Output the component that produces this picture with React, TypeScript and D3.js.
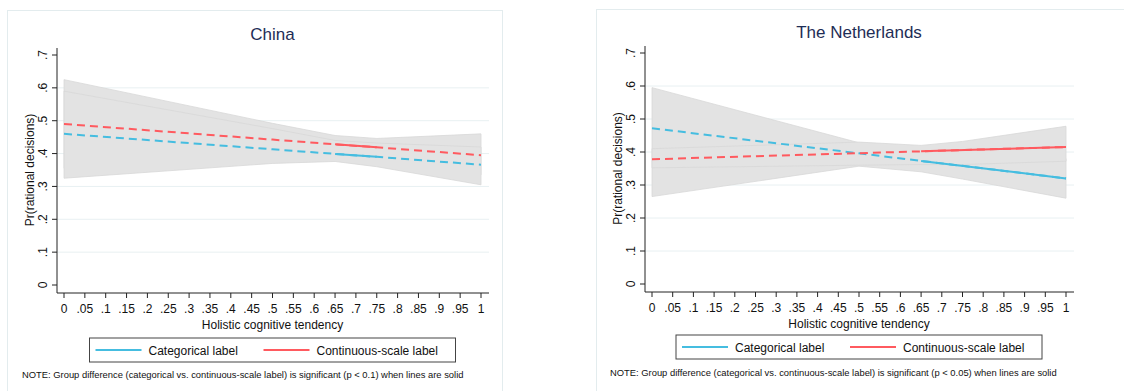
import React from "react";
import * as d3 from "d3";

// evaluation points of the margins (holistic cognitive tendency)
const xPoints = [0, 0.5, 0.65, 0.75, 1];

// China
const chinaCat = [0.46, 0.413, 0.399, 0.39, 0.366];
const chinaCatLo = [0.325, 0.37, 0.376, 0.36, 0.305];
const chinaCatHi = [0.59, 0.476, 0.44, 0.432, 0.42];
const chinaCon = [0.49, 0.4425, 0.428, 0.419, 0.395];
const chinaConLo = [0.355, 0.39, 0.395, 0.385, 0.335];
const chinaConHi = [0.625, 0.492, 0.455, 0.446, 0.46];
const chinaSig = [0.65, 0.75];

// The Netherlands
const nlCat = [0.472, 0.396, 0.373, 0.358, 0.32];
const nlCatLo = [0.265, 0.357, 0.34, 0.318, 0.26];
const nlCatHi = [0.595, 0.428, 0.41, 0.4, 0.38];
const nlCon = [0.378, 0.3965, 0.402, 0.406, 0.415];
const nlConLo = [0.352, 0.36, 0.362, 0.362, 0.372];
const nlConHi = [0.41, 0.43, 0.42, 0.432, 0.478];
const nlSig = [0.65, 1];

const xTicks = d3.range(0, 21).map(i => i / 20);
const yTicks = [0, 0.1, 0.2, 0.3, 0.4, 0.5, 0.6, 0.7];
const gridTicks = [0.1, 0.2, 0.3, 0.4, 0.5, 0.6];

const BLUE = "#45bde0";
const RED = "#ff5a5f";
const FONT = "'Liberation Sans', Arial, sans-serif";

const fmt = (v: number) => {
  const s = d3.format(".2~f")(v);
  return s.startsWith("0.") ? s.slice(1) : s;
};

function Panel(props: any) {
  const { px, py, pw, ph, left, right, bottom, top, title, note, legend, series, bandOrder, sig } = props;

  const x = d3.scaleLinear().domain([0, 1]).range([left, right]);
  const y = d3.scaleLinear().domain([0, 0.7]).range([bottom, top]);

  const line = d3
    .line<number>()
    .x((d, i) => x(xPoints[i]))
    .y(d => y(d));

  const band = (lo: number[], hi: number[]) =>
    d3
      .area<number>()
      .x(d => x(d))
      .y0((d, i) => y(lo[i]))
      .y1((d, i) => y(hi[i]))(xPoints) as string;

  // value of a series at an arbitrary x (straight line between points)
  const at = (vals: number[], xv: number) => d3.scaleLinear().domain(xPoints).range(vals)(xv);

  const axisY = bottom + 8;
  const axisL = left - 7;
  const axisR = right + 8;
  const cx = (left + right) / 2;

  return (
    <g>
      <rect x={px} y={py} width={pw} height={ph} fill="#fff" stroke="#e3ecee" strokeWidth={1} />
      <text x={cx} y={top - 15} textAnchor="middle" fontSize={17} fill="#1e2d56" fontFamily={FONT}>
        {title}
      </text>

      {gridTicks.map(t => (
        <line key={t} x1={axisL} x2={axisR} y1={y(t)} y2={y(t)} stroke="#e8f0f2" strokeWidth={1} />
      ))}

      {bandOrder.map((k: number) => (
        <path key={"b" + k} d={band(series[k].lo, series[k].hi)} fill="#e3e3e3" stroke="#d8d8d8" strokeWidth={0.8} />
      ))}

      {series.map((s: any, i: number) => (
        <path key={"d" + i} d={line(s.est) as string} fill="none" stroke={s.color} strokeWidth={2} strokeDasharray="8,5" />
      ))}
      {series.map((s: any, i: number) => (
        <line
          key={"s" + i}
          x1={x(sig[0])}
          x2={x(sig[1])}
          y1={y(at(s.est, sig[0]))}
          y2={y(at(s.est, sig[1]))}
          stroke={s.color}
          strokeWidth={2}
        />
      ))}

      {/* y axis */}
      <line x1={axisL} x2={axisL} y1={top - 7} y2={axisY} stroke="#222" strokeWidth={1} />
      {yTicks.map(t => (
        <g key={t}>
          <line x1={axisL - 5} x2={axisL} y1={y(t)} y2={y(t)} stroke="#222" />
          <text
            transform={`translate(${axisL - 10},${y(t)}) rotate(-90)`}
            textAnchor="middle"
            fontSize={12}
            fontFamily={FONT}
            fill="#111"
          >
            {fmt(t)}
          </text>
        </g>
      ))}
      <text
        transform={`translate(${axisL - 23},${(top + bottom) / 2}) rotate(-90)`}
        textAnchor="middle"
        fontSize={12}
        fontFamily={FONT}
        fill="#111"
      >
        Pr(rational decisions)
      </text>

      {/* x axis */}
      <line x1={axisL} x2={axisR} y1={axisY} y2={axisY} stroke="#222" strokeWidth={1} />
      {xTicks.map(t => (
        <g key={t}>
          <line x1={x(t)} x2={x(t)} y1={axisY} y2={axisY + 5} stroke="#222" />
          <text x={x(t)} y={axisY + 20} textAnchor="middle" fontSize={12} fontFamily={FONT} fill="#111">
            {fmt(t)}
          </text>
        </g>
      ))}
      <text x={cx} y={axisY + 36} textAnchor="middle" fontSize={12} fontFamily={FONT} fill="#111">
        Holistic cognitive tendency
      </text>

      {/* legend */}
      <rect x={cx - 183} y={legend} width={366} height={24} fill="#fff" stroke="#444" strokeWidth={1} />
      {series.map((s: any, i: number) => {
        const lx = cx - 177 + i * 168;
        return (
          <g key={"l" + i}>
            <line x1={lx} x2={lx + 46} y1={legend + 12} y2={legend + 12} stroke={s.color} strokeWidth={2} />
            <text x={lx + 53} y={legend + 16.5} fontSize={12} fontFamily={FONT} fill="#111">
              {s.name}
            </text>
          </g>
        );
      })}

      <text x={note.x} y={note.y} fontSize={9.4} fontFamily={FONT} fill="#111">
        {note.text}
      </text>
    </g>
  );
}

export default function App() {
  const chinaSeries = [
    { name: "Categorical label", color: BLUE, est: chinaCat, lo: chinaCatLo, hi: chinaCatHi },
    { name: "Continuous-scale label", color: RED, est: chinaCon, lo: chinaConLo, hi: chinaConHi },
  ];
  const nlSeries = [
    { name: "Categorical label", color: BLUE, est: nlCat, lo: nlCatLo, hi: nlCatHi },
    { name: "Continuous-scale label", color: RED, est: nlCon, lo: nlConLo, hi: nlConHi },
  ];

  return (
    <svg width={1124} height={391} style={{ position: "absolute", left: 0, top: 0, background: "#fff" }}>
      <Panel
        px={7.5}
        py={10.5}
        pw={495}
        ph={400}
        left={64}
        right={481}
        top={55}
        bottom={285}
        title="China"
        legend={338}
        series={chinaSeries}
        bandOrder={[1, 0]}
        sig={chinaSig}
        note={{
          x: 22,
          y: 378,
          text: "NOTE: Group difference (categorical vs. continuous-scale label) is significant (p < 0.1) when lines are solid",
        }}
      />
      <Panel
        px={596.5}
        py={9.5}
        pw={540}
        ph={400}
        left={652}
        right={1066}
        top={53}
        bottom={284}
        title="The Netherlands"
        legend={335}
        series={nlSeries}
        bandOrder={[0, 1]}
        sig={nlSig}
        note={{
          x: 610,
          y: 376,
          text: "NOTE: Group difference (categorical vs. continuous-scale label) is significant (p < 0.05) when lines are solid",
        }}
      />
    </svg>
  );
}
